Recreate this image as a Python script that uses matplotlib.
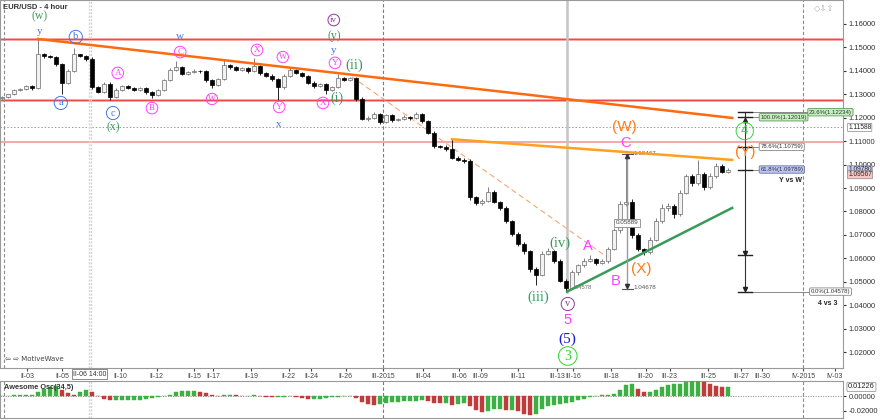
import matplotlib
matplotlib.use("Agg")
import matplotlib.pyplot as plt
from matplotlib.patches import Rectangle
from matplotlib.transforms import blended_transform_factory
import numpy as np

plt.rcParams['font.family'] = ['Liberation Sans', 'DejaVu Sans']

# EUR/USD 4h candles (resampled), close prices
first_open = 1.1285
closes = [
    1.1290, 1.1300, 1.1318, 1.1322, 1.1335, 1.1325, 1.1470, 1.1462, 1.1458, 1.1430,
    1.1350, 1.1400, 1.1470, 1.1462, 1.1450, 1.1330, 1.1310, 1.1345, 1.1290, 1.1320,
    1.1335, 1.1328, 1.1318, 1.1325, 1.1310, 1.1295, 1.1320, 1.1360, 1.1405, 1.1415,
    1.1388, 1.1395, 1.1400, 1.1398, 1.1360, 1.1340, 1.1365, 1.1425, 1.1415, 1.1405,
    1.1412, 1.1398, 1.1420, 1.1390, 1.1380, 1.1365, 1.1330, 1.1380, 1.1405, 1.1392,
    1.1378, 1.1350, 1.1335, 1.1345, 1.1318, 1.1330, 1.1370, 1.1362, 1.1368, 1.1280,
    1.1195, 1.1200, 1.1215, 1.1182, 1.1210, 1.1190, 1.1195, 1.1205, 1.1198, 1.1215,
    1.1185, 1.1135, 1.1080, 1.1075, 1.1065, 1.1030, 1.1020, 1.1015, 1.0860, 1.0835,
    1.0845, 1.0885, 1.0840, 1.0815, 1.0760, 1.0705, 1.0660, 1.0630, 1.0555, 1.0530,
    1.0620, 1.0630, 1.0590, 1.0505, 1.0475, 1.0540, 1.0570, 1.0590, 1.0595, 1.0580,
    1.0590, 1.0640, 1.0720, 1.0830, 1.0840, 1.0700, 1.0640, 1.0625, 1.0680, 1.0760,
    1.0815, 1.0825, 1.0790, 1.0880, 1.0950, 1.0920, 1.0960, 1.0905, 1.0950, 1.0995,
    1.0970, 1.0978,
]
# wick lengths in pips above / below the body
wick_hi = [
    4, 3, 5, 3, 4, 6, 66, 5, 4, 6,
    5, 6, 28, 4, 5, 8, 4, 7, 6, 5,
    4, 6, 3, 5, 4, 6, 4, 5, 6, 25,
    5, 4, 6, 3, 5, 4, 6, 20, 5, 4,
    6, 5, 35, 4, 6, 5, 4, 7, 8, 5,
    4, 6, 5, 4, 5, 6, 15, 4, 7, 6,
    8, 6, 10, 5, 7, 6, 5, 8, 4, 10,
    5, 6, 8, 5, 7, 43, 5, 6, 8, 5,
    6, 20, 5, 6, 7, 5, 6, 8, 5, 6,
    10, 15, 6, 7, 5, 8, 6, 10, 17, 6,
    5, 8, 10, 15, 207, 12, 8, 6, 10, 12,
    15, 10, 8, 12, 10, 8, 60, 10, 12, 10,
    8, 6,
]
wick_lo = [
    5, 4, 3, 6, 4, 5, 3, 6, 5, 8,
    50, 6, 4, 5, 6, 8, 6, 5, 14, 6,
    5, 4, 6, 5, 7, 12, 4, 5, 4, 6,
    6, 5, 4, 6, 7, 13, 5, 4, 6, 5,
    4, 6, 5, 7, 6, 8, 54, 6, 5, 4,
    6, 5, 8, 6, 18, 5, 4, 6, 5, 8,
    6, 8, 5, 10, 6, 8, 5, 6, 7, 5,
    8, 6, 10, 5, 8, 6, 5, 8, 10, 6,
    8, 5, 6, 10, 8, 10, 8, 10, 12, 43,
    6, 8, 10, 8, 17, 6, 10, 8, 6, 8,
    6, 8, 6, 10, 8, 15, 10, 11, 8, 6,
    10, 12, 18, 8, 6, 10, 8, 12, 8, 6,
    8, 6,
]
# Awesome oscillator (34,5), in thousandths
ao_values = [
    0, 0.5, 1, 1, 1.5, 2, 5, 9, 12, 13,
    8, 4, 2, 5, 8, 6, 0, -4, -6, -5,
    -5, -5, -5, -5, -4, -3, -2, 0, 2, 5,
    7, 7, 7, 6, 4, 1, 0, 1, 2, 1,
    0, 0, 1, 0, -1, -2, -2, -1, 0, -1,
    -3, -4, -4, -4, -3, -2, -1, 0, 0, -3,
    -8, -11, -12, -11, -9, -8, -8, -7, -7, -7,
    -6, -7, -9, -10, -10, -12, -11, -10, -14, -19,
    -22, -20, -18, -18, -19, -19, -21, -24, -26, -24,
    -18, -14, -12, -11, -10, -8, -6, -4, -2, 0,
    1, 2, 3, 8, 15, 17, 9, 5, 5, 8,
    12, 15, 17, 17, 19, 20, 20, 19, 16, 13,
    12, 12,
]

date_labels = ['II-03', 'II-05', 'II-10', 'II-12', 'II-15', 'II-17', 'II-19', 'II-22',
               'II-24', 'II-26', 'III-2015', 'III-04', 'III-06', 'III-09', 'III-11',
               'III-13', 'III-16', 'III-18', 'III-20', 'III-23', 'III-25', 'III-27',
               'III-30', 'IV-2015', 'IV-03']
date_bars = [4.2, 10.0, 19.8, 25.8, 32.0, 35.2, 41.5, 47.8, 51.5, 57.3, 63.5, 70.2,
             76.2, 79.8, 86.0, 92.5, 95.2, 101.5, 107.3, 111.3, 117.7, 123.2, 126.7,
             133.5, 138.8]

red_levels = [1.1536, 1.1276]
light_red_level = 1.1096
last_marker = 1.11588

# trend lines: (bar, price) -> (bar, price)
resistance_main = [(6, 1.1536), (121.7, 1.1199)]
resistance_small = [(75, 1.1108), (121.7, 1.1020)]
dashed_guide = [(58.3, 1.1375), (101.7, 1.0590)]
support_line = [(94.2, 1.0458), (121.7, 1.0815)]

# measure tool and fib tool
measure_bar, measure_top, measure_bot = 104.2, 1.10467, 1.04678
fib_bar = 123.8
fib_levels = [1.12234, 1.12019, 1.10759, 1.09789, 1.06146, 1.04578]
fib_texts = ['23.6%(1.12234)', '100.0%(1.12019)', '78.6%(1.10759)', '61.8%(1.09789)', None,
             '0.0%(1.04578)']

GREEN = '#3c9a5f'
MAG = '#ff40ff'
BLUE = '#4477dd'
PURP = '#8e3a9a'
ORANGE = '#ff7a1a'

# wave labels: text, bar, price, colour, circled, size, serif
wave_labels = [
    ('(w)', 6.3, 1.1632, GREEN, False, 8.5, True),
    ('y', 6.3, 1.1570, BLUE, False, 8, True),
    ('b', 12.3, 1.1545, BLUE, True, 7.5, True),
    ('a', 9.8, 1.1263, BLUE, True, 7.5, True),
    ('c', 18.5, 1.1220, BLUE, True, 7.5, True),
    ('(x)', 18.5, 1.1160, GREEN, False, 8.5, True),
    ('A', 19.3, 1.1391, MAG, True, 6.5, True),
    ('B', 25.0, 1.1241, MAG, True, 6.5, True),
    ('w', 29.7, 1.1545, BLUE, False, 8, True),
    ('C', 29.7, 1.1480, MAG, True, 6.5, True),
    ('W', 35.0, 1.1280, MAG, True, 6, True),
    ('X', 42.5, 1.1489, MAG, True, 6.5, True),
    ('W', 46.8, 1.1459, MAG, True, 6, True),
    ('Y', 46.2, 1.1246, MAG, True, 6.5, True),
    ('x', 46.2, 1.1169, BLUE, False, 8, True),
    ('X', 53.5, 1.1263, MAG, True, 6.5, True),
    ('Y', 55.5, 1.1434, MAG, True, 6.5, True),
    ('y', 55.3, 1.1489, BLUE, False, 8, True),
    ('(y)', 55.3, 1.1549, GREEN, False, 8.5, True),
    ('iv', 55.3, 1.1617, PURP, True, 6.5, True),
    ('(ii)', 58.7, 1.1425, GREEN, False, 10.5, True),
    ('(i)', 55.8, 1.1284, GREEN, False, 10, True),
    ('(W)', 103.8, 1.1160, ORANGE, False, 11, False),
    ('C', 104.0, 1.1092, MAG, False, 10.5, False),
    ('(iv)', 93.0, 1.0665, GREEN, False, 10.5, True),
    ('A', 97.7, 1.0652, MAG, False, 10.5, False),
    ('B', 102.3, 1.0503, MAG, False, 10.5, False),
    ('(X)', 106.5, 1.0554, ORANGE, False, 11, False),
    ('(iii)', 89.3, 1.0435, GREEN, False, 10.5, True),
    ('v', 94.3, 1.0405, PURP, True, 7.5, True),
    ('5', 94.3, 1.0337, MAG, False, 10.5, False),
    ('(5)', 94.3, 1.0256, '#1a1acc', False, 11, True),
    ('3', 94.3, 1.0183, '#2ad82a', True, 10, True),
    ('4', 123.8, 1.1143, '#3ccf3c', True, 9.5, False),
    ('(Y)', 123.8, 1.1053, ORANGE, False, 11, False),
]

X0, X1 = -0.33, 140.17
fig = plt.figure(figsize=(8.8, 4.2), dpi=100)
ax = fig.add_axes([0.0, 52 / 420, 843 / 880, 368 / 420])
osc = fig.add_axes([0.0, 2 / 420, 843 / 880, 37 / 420])

# --- candles
opens = [first_open] + closes[:-1]
for i, (o, c) in enumerate(zip(opens, closes)):
    hi = max(o, c) + wick_hi[i] / 10000
    lo = min(o, c) - wick_lo[i] / 10000
    up = c >= o
    col = '#6a6a6a' if up else 'black'
    ax.vlines(i, lo, hi, color=col, lw=0.6, zorder=3)
    h = max(abs(c - o), 0.0002)
    ax.add_patch(Rectangle((i - 0.3, min(o, c)), 0.6, h,
                           facecolor='#f2f2f2' if up else 'black',
                           edgecolor=col, lw=0.5, zorder=4))

# horizontal levels
for lv in red_levels:
    ax.axhline(lv, color='#ffbcbc', lw=2.1, zorder=1)
    ax.axhline(lv, color='#f04848', lw=1.0, zorder=1)
ax.axhline(light_red_level, color='#f49a9a', lw=1.2, zorder=1)
ax.axhline(last_marker, color='#9a9a9a', lw=0.7, ls=(0, (1.5, 2)), zorder=1)

# vertical guides
for b, c in [(0.33, '#8a8a8a'), (63.5, '#7a7a7a'), (133.5, '#8a8a8a')]:
    for a in (ax, osc):
        a.axvline(b, color=c, lw=0.8, ls=(0, (3, 2)), zorder=1)
for b in (14.5, 14.85):
    for a in (ax, osc):
        a.axvline(b, color='#d4d4d4', lw=1.0, ls=(0, (1.5, 1)), zorder=1)
ax.plot([94.2, 94.2], [1.0458, 1.1702], color='#c4c4c4', lw=1.8, zorder=2)

# trend lines
(x0, y0), (x1, y1) = resistance_main
ax.plot([x0, x1], [y0, y1], color='#ff6a10', lw=1.8, zorder=5)
(x0, y0), (x1, y1) = resistance_small
ax.plot([x0, x1], [y0, y1], color='#ffa020', lw=1.8, zorder=5)
(x0, y0), (x1, y1) = dashed_guide
ax.plot([x0, x1], [y0, y1], color='#f6a878', lw=0.8, ls=(0, (5, 3)), zorder=2)
(x0, y0), (x1, y1) = support_line
ax.plot([x0, x1], [y0, y1], color='#3a9a5a', lw=1.8, zorder=5)

# measure tool
ax.plot([measure_bar] * 2, [measure_bot, measure_top], color='#9a9a9a', lw=1.0, zorder=5)
for yy in (measure_top, measure_bot):
    ax.plot([measure_bar - 0.9, measure_bar + 0.9], [yy, yy], color='#555', lw=0.8, zorder=5)
ax.plot(measure_bar, measure_top - 0.0012, marker='^', ms=3, color='#333', zorder=6)
ax.plot(measure_bar, measure_bot + 0.0012, marker='v', ms=3, color='#333', zorder=6)
ax.text(measure_bar + 1, measure_top, '1.10467', fontsize=4.5, color='#555', va='center')
ax.text(measure_bar + 1, measure_bot + 0.0008, '1.04678', fontsize=4.5, color='#555', va='center')
ax.text(94.8, 1.0476, '1.04578', fontsize=4.2, color='#666', va='center')
ax.text(measure_bar, 1.0752, '0.05889', fontsize=4.5, color='#444', ha='center', va='center',
        bbox=dict(boxstyle='square,pad=0.25', fc='white', ec='#888', lw=0.6), zorder=7)

# fib tool
ax.plot([fib_bar] * 2, [fib_levels[-1], fib_levels[0]], color='#333', lw=0.8, zorder=5)
fib_style = [('#c6efbe', '#5a9a5a', 134.5), ('#c6efbe', '#5a9a5a', 126.4),
             ('white', '#888', 126.4), ('#bcc6f2', '#6a72b0', 126.4), None,
             ('white', '#888', 134.8)]
for lv, txt, st in zip(fib_levels, fib_texts, fib_style):
    ax.plot([fib_bar - 1.2, fib_bar + 1.2], [lv, lv], color='#222', lw=1.0, zorder=5)
    if txt is None:
        continue
    fc, ec, tx = st
    ax.plot([fib_bar + 1.2, tx], [lv, lv], color='#888', lw=0.7, zorder=4)
    ax.text(tx, lv, txt, fontsize=4.3, color='#333', va='center', ha='left',
            bbox=dict(boxstyle='round,pad=0.2', fc=fc, ec=ec, lw=0.6), zorder=7)
ax.plot(fib_bar, fib_levels[1] - 0.001, marker='^', ms=3, color='#222', zorder=6)
ax.plot(fib_bar, fib_levels[4] + 0.001, marker='v', ms=3, color='#222', zorder=6)
ax.plot(fib_bar, fib_levels[5] + 0.001, marker='v', ms=3, color='#222', zorder=6)
ax.text(131.5, 1.0934, 'Y vs W', fontsize=5, weight='bold', color='#222', ha='center', va='center')
ax.text(139.3, 1.0409, '4 vs 3', fontsize=5, weight='bold', color='#222', ha='right', va='center')

# wave labels
for txt, b, p, col, circ, size, serif in wave_labels:
    kw = {}
    if circ:
        kw['bbox'] = dict(boxstyle='circle,pad=0.2', fc='none', ec=col, lw=0.7)
    fam = ['Liberation Serif', 'DejaVu Serif'] if serif else ['Liberation Sans', 'DejaVu Sans']
    ax.text(b, p, txt, color=col, fontsize=size, ha='center', va='center',
            family=fam, zorder=8, **kw)

# titles
ax.text(0.003, 0.99, 'EUR/USD - 4 hour', transform=ax.transAxes, fontsize=5.5,
        weight='bold', color='#333', va='top')
ax.text(0.006, 0.016, '\u21e6 \u21e8 MotiveWave', transform=ax.transAxes, fontsize=5,
        color='#444', va='bottom', family=['DejaVu Sans'])
ax.text(0.99, 0.99, '\u25c7\u21e9\u21e7', transform=ax.transAxes, fontsize=6,
        color='#aaaaaa', va='top', ha='right', family=['DejaVu Sans'])

# axes styling
ax.set_xlim(X0, X1)
ax.set_ylim(1.01318, 1.17024)
ax.yaxis.tick_right()
ax.set_yticks(np.arange(1.02, 1.1601, 0.01))
ax.set_yticklabels([f'{v:.5f}' for v in np.arange(1.02, 1.1601, 0.01)])
ax.tick_params(axis='y', labelsize=5.5, length=2.5, pad=1.5, colors='#333')
ax.set_xticks(date_bars)
ax.set_xticklabels(date_labels)
ax.tick_params(axis='x', labelsize=5, length=2.5, pad=1, colors='#444')
for s in ax.spines.values():
    s.set_color('#999')
    s.set_linewidth(0.8)

tr = blended_transform_factory(ax.transAxes, ax.transData)
for val, fc in [(1.11588, 'white'), (1.09780, '#c4ccf6'), (1.09567, '#f6c6c6')]:
    ax.text(1.006, val, f'{val:.5f}', transform=tr, fontsize=4.8, va='center', ha='left',
            color='#222', bbox=dict(boxstyle='round,pad=0.08', fc=fc, ec='#888', lw=0.5),
            zorder=9, clip_on=False)
fig.text(89.5 / 880, 1 - 374 / 420, 'II-06 14:00', fontsize=5, color='#333', ha='center',
         va='center', bbox=dict(boxstyle='square,pad=0.15', fc='white', ec='#777', lw=0.6))

# oscillator
ao = np.array(ao_values) / 1000
bar_cols = ['#3cb043' if i == 0 or ao[i] >= ao[i - 1] else '#c23b3b' for i in range(len(ao))]
osc.bar(np.arange(len(ao)), ao, width=0.75, color=bar_cols, edgecolor=bar_cols, lw=0.3, zorder=3)
osc.axhline(0, color='#888', lw=0.6, ls=(0, (1.5, 1.5)), zorder=2)
osc.set_xlim(X0, X1)
osc.set_ylim(-0.0299, 0.0204)
osc.set_xticks([])
osc.yaxis.tick_right()
osc.set_yticks([0.0, -0.02])
osc.set_yticklabels(['0.00000', '-0.02000'])
osc.tick_params(axis='y', labelsize=5.5, length=2.5, pad=1.5, colors='#333')
for s in osc.spines.values():
    s.set_color('#999')
    s.set_linewidth(0.8)
osc.text(0.005, 0.93, 'Awesome Osc(34,5)', transform=osc.transAxes, fontsize=5.3,
         weight='bold', color='#333', va='top')
tro = blended_transform_factory(osc.transAxes, osc.transData)
osc.text(1.006, 0.01226, '0.01226', transform=tro, fontsize=5.3, va='center', ha='left',
         color='#222', bbox=dict(boxstyle='round,pad=0.15', fc='white', ec='#888', lw=0.5),
         clip_on=False)

fig.savefig('out.png', dpi=100, facecolor='white')
